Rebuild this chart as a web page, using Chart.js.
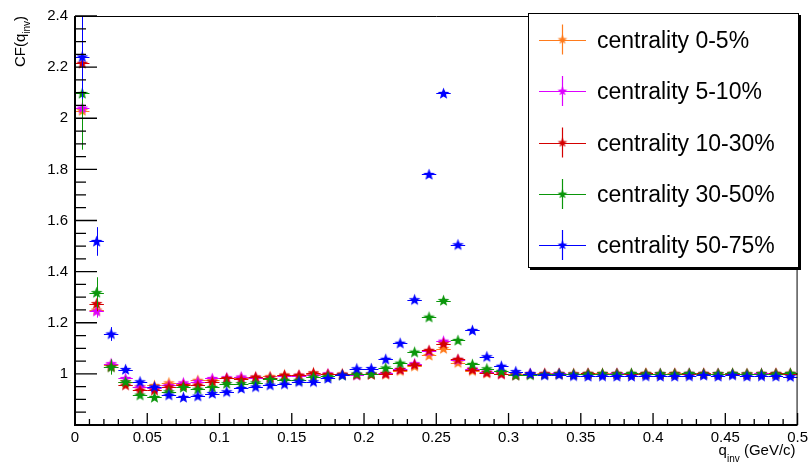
<!DOCTYPE html>
<html><head><meta charset="utf-8">
<script src="https://cdn.jsdelivr.net/npm/chart.js@4/dist/chart.umd.min.js"></script>
<style>html,body{margin:0;padding:0;background:#fff;}#wrap{width:812px;height:464px;position:relative;}</style>
</head><body><div id="wrap"><canvas id="c" width="812" height="464"></canvas></div>
<script>
// ---- data ----
const qinv = [0.005,0.015,0.025,0.035,0.045,0.055,0.065,0.075,0.085,0.095,
0.105,0.115,0.125,0.135,0.145,0.155,0.165,0.175,0.185,0.195,
0.205,0.215,0.225,0.235,0.245,0.255,0.265,0.275,0.285,0.295,
0.305,0.315,0.325,0.335,0.345,0.355,0.365,0.375,0.385,0.395,
0.405,0.415,0.425,0.435,0.445,0.455,0.465,0.475,0.485,0.495];

const cf0_5 = [2.03,1.25,1.035,0.97,0.949,0.955,0.965,0.96,0.975,0.975,
0.982,0.985,0.985,0.99,0.995,0.993,1.0,0.998,1.0,0.996,
0.998,0.998,1.012,1.03,1.072,1.099,1.044,1.012,1.003,1.0,
0.998,1.0,1.002,0.999,1.001,1.0,1.002,1.0,0.999,1.001,
1.0,1.002,1.0,1.001,0.999,1.002,1.0,1.001,1.0,1.002];
const cf5_10 = [2.04,1.245,1.04,0.982,0.949,0.945,0.955,0.965,0.97,0.982,
0.985,0.988,0.985,0.985,0.99,0.993,0.995,1.0,0.998,0.995,
1.0,1.002,1.018,1.04,1.088,1.128,1.055,1.02,1.008,1.0,
0.997,1.001,1.0,1.002,0.999,1.001,1.0,1.002,1.0,0.999,
1.001,1.0,1.002,1.0,1.001,1.0,0.999,1.002,1.0,1.001];
const cf10_30 = [2.215,1.275,1.028,0.956,0.936,0.936,0.949,0.955,0.956,0.969,
0.982,0.978,0.988,0.985,0.995,0.995,1.004,0.998,0.998,0.998,
0.998,1.001,1.017,1.036,1.092,1.118,1.057,1.017,1.005,1.0,
0.995,0.998,1.0,1.001,0.999,1.002,1.0,1.001,1.0,1.002,
0.999,1.001,1.0,1.002,1.0,1.001,0.999,1.0,1.002,1.0];
const cf30_50 = [2.097,1.318,1.027,0.969,0.917,0.908,0.93,0.947,0.94,0.947,
0.962,0.962,0.965,0.978,0.975,0.975,0.988,0.99,0.995,1.0,
1.0,1.023,1.042,1.085,1.222,1.287,1.131,1.037,1.02,1.01,
0.995,0.996,0.998,1.0,0.999,1.0,1.001,1.0,1.002,1.0,
1.001,1.0,1.002,1.0,1.001,1.002,1.0,1.001,1.0,1.002];
const cf50_75 = [2.24,1.518,1.156,1.017,0.969,0.949,0.917,0.908,0.913,0.923,
0.93,0.943,0.949,0.956,0.96,0.969,0.969,0.982,0.995,1.02,
1.021,1.057,1.12,1.29,1.78,2.097,1.505,1.17,1.067,1.03,
1.009,1.001,0.995,0.997,0.992,0.99,0.991,0.99,0.99,0.991,
0.99,0.99,0.991,0.994,0.99,0.995,0.99,0.991,0.99,0.989];

const err0_5 = [0.10,0.025,0.012,0.006,0.005,0.005,0.005,0.004,0.004,0.004,
0.004,0.004,0.004,0.004,0.004,0.004,0.004,0.004,0.004,0.004,
0.004,0.004,0.004,0.004,0.005,0.005,0.004,0.004,0.004,0.004,
0.003,0.003,0.003,0.003,0.003,0.003,0.003,0.003,0.003,0.003,
0.003,0.003,0.003,0.003,0.003,0.003,0.003,0.003,0.003,0.003];
const err5_10 = [0.10,0.025,0.014,0.007,0.005,0.005,0.005,0.004,0.004,0.004,
0.004,0.004,0.004,0.004,0.004,0.004,0.004,0.004,0.004,0.004,
0.004,0.004,0.004,0.004,0.005,0.005,0.004,0.004,0.004,0.004,
0.003,0.003,0.003,0.003,0.003,0.003,0.003,0.003,0.003,0.003,
0.003,0.003,0.003,0.003,0.003,0.003,0.003,0.003,0.003,0.003];
const err10_30 = [0.12,0.03,0.013,0.006,0.005,0.004,0.004,0.004,0.004,0.004,
0.004,0.004,0.004,0.004,0.004,0.004,0.004,0.004,0.004,0.004,
0.004,0.004,0.004,0.004,0.005,0.005,0.004,0.004,0.004,0.004,
0.003,0.003,0.003,0.003,0.003,0.003,0.003,0.003,0.003,0.003,
0.003,0.003,0.003,0.003,0.003,0.003,0.003,0.003,0.003,0.003];
const err30_50 = [0.22,0.06,0.03,0.01,0.007,0.006,0.005,0.005,0.005,0.005,
0.005,0.005,0.005,0.005,0.005,0.005,0.005,0.005,0.005,0.005,
0.005,0.005,0.005,0.006,0.007,0.007,0.006,0.005,0.005,0.005,
0.004,0.004,0.004,0.004,0.004,0.004,0.004,0.004,0.004,0.004,
0.004,0.004,0.004,0.004,0.004,0.004,0.004,0.004,0.004,0.004];
const err50_75 = [0.165,0.056,0.027,0.012,0.008,0.007,0.006,0.006,0.006,0.006,
0.006,0.006,0.006,0.006,0.006,0.006,0.006,0.006,0.006,0.006,
0.006,0.006,0.007,0.008,0.01,0.011,0.009,0.007,0.006,0.006,
0.005,0.005,0.005,0.005,0.005,0.005,0.005,0.005,0.005,0.005,
0.005,0.005,0.005,0.005,0.005,0.005,0.005,0.005,0.005,0.005];

const binHalfWidth = 0.005;
const seriesLabels = ['centrality 0-5%','centrality 5-10%','centrality 10-30%','centrality 30-50%','centrality 50-75%'];
const xTickValues = [0,0.05,0.1,0.15,0.2,0.25,0.3,0.35,0.4,0.45,0.5];
const xTickLabels = ['0','0.05','0.1','0.15','0.2','0.25','0.3','0.35','0.4','0.45','0.5'];
const yTickValues = [1,1.2,1.4,1.6,1.8,2,2.2,2.4];
const yTickLabels = ['1','1.2','1.4','1.6','1.8','2','2.2','2.4'];
const xTitle = ['q','inv',' (GeV/c)'];
const yTitle = ['CF(q','inv',')'];

// ---- styles ----
const colors = ['#ff7b1c','#dd00ff','#d40000','#0a960a','#0000ff'];
const FONT = "'Liberation Sans', Arial, Helvetica, sans-serif";

function starImage(color, R, r){
  const c = document.createElement('canvas');
  const size = Math.ceil(2*R+2);
  c.width = size; c.height = size;
  const g = c.getContext('2d');
  g.fillStyle = color;
  g.beginPath();
  const cx = size/2, cy = size/2 + 0.3;
  for (let k=0;k<10;k++){
    const ang = -Math.PI/2 + k*Math.PI/5;
    const rad = (k%2===0)?R:r;
    const px = cx + rad*Math.cos(ang), py = cy + rad*Math.sin(ang);
    if(k===0) g.moveTo(px,py); else g.lineTo(px,py);
  }
  g.closePath(); g.fill();
  return c;
}

const values = [cf0_5, cf5_10, cf10_30, cf30_50, cf50_75];
const errors = [err0_5, err5_10, err10_30, err30_50, err50_75];

const datasets = values.map((vals, s) => ({
  label: seriesLabels[s],
  data: qinv.map((q,i)=>({x:q, y:vals[i]})),
  errY: errors[s],
  borderColor: colors[s],
  backgroundColor: colors[s],
  pointStyle: starImage(colors[s], 6.2, 2.6),
  legendStar: starImage(colors[s], 5, 2.1),
  pointRadius: 6,
  showLine: false,
  order: 5 - s
}));

const errBars = {
  id:'errBars',
  beforeDatasetDraw(chart, args){
    const ds = chart.data.datasets[args.index];
    const {ctx, chartArea:a, scales:{x, y}} = chart;
    ctx.save();
    ctx.beginPath(); ctx.rect(a.left, a.top, a.right-a.left, a.bottom-a.top); ctx.clip();
    ctx.strokeStyle = ds.borderColor; ctx.lineWidth = 1;
    ctx.beginPath();
    ds.data.forEach((p,i)=>{
      const px = Math.round(x.getPixelForValue(p.x)) + 0.5;
      const py = Math.round(y.getPixelForValue(p.y)) + 0.5;
      const x0 = x.getPixelForValue(p.x - binHalfWidth), x1 = x.getPixelForValue(p.x + binHalfWidth);
      ctx.moveTo(x0, py); ctx.lineTo(x1, py);
      const y0 = y.getPixelForValue(p.y - ds.errY[i]), y1 = y.getPixelForValue(p.y + ds.errY[i]);
      ctx.moveTo(px, y0); ctx.lineTo(px, y1);
    });
    ctx.stroke();
    ctx.restore();
  }
};

const frame = {
  id:'frame',
  afterDatasetsDraw(chart){
    const {ctx, chartArea:a, scales:{x, y}} = chart;
    ctx.save();
    ctx.strokeStyle = '#000';
    ctx.lineWidth = 1;
    ctx.beginPath();
    ctx.moveTo(a.left, a.top+0.5); ctx.lineTo(a.right, a.top+0.5);
    ctx.moveTo(a.right-0.5, a.top); ctx.lineTo(a.right-0.5, a.bottom);
    ctx.stroke();
    ctx.lineWidth = 1.3;
    ctx.beginPath();
    for (let k=0;k<=50;k++){
      const v = k*0.01;
      const px = x.getPixelForValue(v);
      const len = (k%5===0)?12:6;
      ctx.moveTo(px, a.bottom); ctx.lineTo(px, a.bottom-len);
    }
    for (let k=0;k<=32;k++){
      const v = 0.8 + k*0.05;
      const py = y.getPixelForValue(v);
      const len = (k%4===0)?22:11;
      ctx.moveTo(a.left, py); ctx.lineTo(a.left+len, py);
    }
    ctx.stroke();
    ctx.lineWidth = 2;
    ctx.beginPath();
    ctx.moveTo(a.left, a.top); ctx.lineTo(a.left, a.bottom+1);
    ctx.moveTo(a.left-1, a.bottom); ctx.lineTo(a.right, a.bottom);
    ctx.stroke();
    ctx.restore();
  },
  afterDraw(chart){
    const {ctx, chartArea:a} = chart;
    ctx.save();
    ctx.fillStyle = '#000';
    ctx.font = '15px ' + FONT;
    const w0 = ctx.measureText(xTitle[0]).width;
    const w2 = ctx.measureText(xTitle[2]).width;
    ctx.font = '10px ' + FONT;
    const w1 = ctx.measureText(xTitle[1]).width;
    let sx = a.right - (w0+w1+w2) - 2;
    const by = 455;
    ctx.textBaseline = 'alphabetic'; ctx.textAlign = 'left';
    ctx.font = '15px ' + FONT; ctx.fillText(xTitle[0], sx, by);
    ctx.font = '10px ' + FONT; ctx.fillText(xTitle[1], sx+w0, by+7);
    ctx.font = '15px ' + FONT; ctx.fillText(xTitle[2], sx+w0+w1, by);
    ctx.font = '15px ' + FONT;
    const u0 = ctx.measureText(yTitle[0]).width;
    const u2 = ctx.measureText(yTitle[2]).width;
    ctx.font = '10px ' + FONT;
    const u1 = ctx.measureText(yTitle[1]).width;
    ctx.translate(25, a.top + (u0+u1+u2));
    ctx.rotate(-Math.PI/2);
    ctx.font = '15px ' + FONT; ctx.fillText(yTitle[0], 0, 0);
    ctx.font = '10px ' + FONT; ctx.fillText(yTitle[1], u0, 5);
    ctx.font = '15px ' + FONT; ctx.fillText(yTitle[2], u0+u1, 0);
    ctx.restore();

    ctx.save();
    const L = 528, T = 13, R = 799, B = 268;
    ctx.fillStyle = '#000';
    ctx.fillRect(L+2, T+2, R-L, B-T);
    ctx.fillStyle = '#fff';
    ctx.fillRect(L, T, R-L, B-T);
    ctx.strokeStyle = '#000'; ctx.lineWidth = 1;
    ctx.strokeRect(L+0.5, T+0.5, R-L-1, B-T-1);
    const ys = [39.5, 91, 142.5, 194, 245];
    chart.data.datasets.forEach((ds, s)=>{
      const yy = ys[s];
      ctx.strokeStyle = ds.borderColor; ctx.lineWidth = 1.2;
      ctx.beginPath();
      ctx.moveTo(539, Math.round(yy)+0.5); ctx.lineTo(586, Math.round(yy)+0.5);
      ctx.moveTo(562.5, yy-15); ctx.lineTo(562.5, yy+15);
      ctx.stroke();
      const img = ds.legendStar;
      ctx.drawImage(img, 562.5 - img.width/2, yy - img.height/2);
      ctx.fillStyle = '#000';
      ctx.font = '23px ' + FONT;
      ctx.textBaseline = 'alphabetic'; ctx.textAlign = 'left';
      ctx.fillText(seriesLabels[s], 597, yy + 8);
    });
    ctx.restore();
  }
};

new Chart(document.getElementById('c'), {
  type: 'scatter',
  data: { datasets },
  options: {
    responsive: false,
    animation: false,
    devicePixelRatio: 1,
    layout: { padding: { left: 0, top: 14, right: 11, bottom: 0 } },
    plugins: { legend: { display: false }, tooltip: { enabled: false } },
    scales: {
      x: {
        type: 'linear', min: 0, max: 0.5,
        afterBuildTicks: (sc) => { sc.ticks = xTickValues.map(v=>({value:v})); },
        afterFit: (sc) => { sc.height = 39; },
        grid: { display: false, drawTicks: false },
        border: { display: false },
        ticks: {
          autoSkip: false, maxRotation: 0, minRotation: 0, padding: 4,
          color: '#000', font: { size: 15, family: FONT },
          callback: (v, i) => xTickLabels[i]
        }
      },
      y: {
        type: 'linear', min: 0.8, max: 2.4,
        afterBuildTicks: (sc) => { sc.ticks = yTickValues.map(v=>({value:v})); },
        afterFit: (sc) => { sc.width = 75; },
        grid: { display: false, drawTicks: false },
        border: { display: false },
        ticks: {
          autoSkip: false, padding: 7,
          color: '#000', font: { size: 15, family: FONT },
          callback: (v, i) => yTickLabels[i]
        }
      }
    }
  },
  plugins: [errBars, frame]
});
</script>
</body></html>
